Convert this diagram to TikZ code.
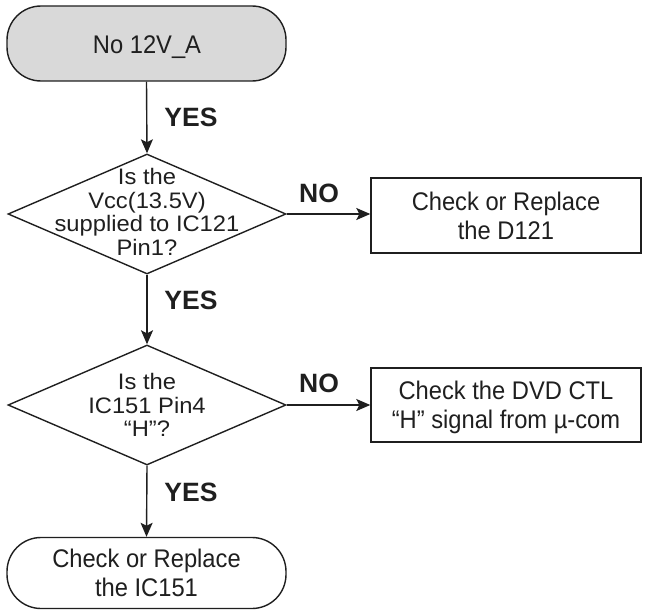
\documentclass[tikz,border=0pt]{standalone}
\usepackage{fontspec}
\setmainfont{Liberation Sans}
\newfontfamily\boxfont[FakeStretch=0.93]{Liberation Sans}
\newfontfamily\diafont[FakeStretch=1.06]{Liberation Sans}
\usetikzlibrary{shapes.geometric,arrows.meta}
\begin{document}
\begin{tikzpicture}[x=1pt,y=-1pt,
  every node/.style={font=\boxfont\fontsize{25.5}{29.3}\selectfont, text=black!88},
  term/.style={draw=black!88, line width=1.4pt, rounded corners=34pt, inner sep=0pt, align=center, text depth=0pt},
  dia/.style={draw=black!88, line width=1.4pt, diamond, inner sep=0pt, minimum width=278pt, minimum height=120pt},
  diatext/.style={align=center, font=\diafont\fontsize{22.4}{23.6}\selectfont, inner sep=0pt, text depth=0pt},
  boxnode/.style={draw=black!88, line width=1.4pt, minimum width=270pt, align=center, inner sep=0pt, text depth=0pt},
  lbl/.style={font=\bfseries\fontsize{26.5}{29}\selectfont, inner sep=0pt},
  conn/.style={draw=black!88, line width=1.4pt, -{Stealth[length=14pt,width=12pt,inset=3pt]}}]
\useasboundingbox (0,0) rectangle (646,610);
% nodes
\node[term, fill=black!15, minimum width=279pt, minimum height=75pt] (start) at (146.5,43.5) {};
\node[anchor=base, inner sep=0pt] (starttxt) at (147,53.3) {No 12V\_A};
\node[dia] (d1) at (147,214) {};
\node[diatext] (d1txt) at (147,212) {Is the\\Vcc(13.5V)\\supplied to IC121\\Pin1?};
\node[boxnode, minimum height=75pt] (b1) at (506,215.5) {Check or Replace\\the D121};
\node[dia] (d2) at (147,405) {};
\node[diatext] (d2txt) at (147,405) {Is the\\IC151 Pin4\\“H”?};
\node[boxnode, minimum height=74pt] (b2) at (506,405) {Check the DVD CTL\\“H” signal from µ-com};
\node[term, fill=white, minimum width=279pt, minimum height=71pt] (stop) at (146.5,573) {Check or Replace\\the IC151};
% labels
\node[lbl] (yes1) at (191,117) {YES};
\node[lbl] (no1) at (319,193) {NO};
\node[lbl] (yes2) at (191,300) {YES};
\node[lbl] (no2) at (319,383) {NO};
\node[lbl] (yes3) at (191,492) {YES};
% connectors
\draw[conn] (start.south) -- (d1.north);
\draw[conn] (d1.east) -- (d1.east -| b1.west);
\draw[conn] (d1.south) -- (d2.north);
\draw[conn] (d2.east) -- (d2.east -| b2.west);
\draw[conn] (d2.south) -- (stop.north);
\end{tikzpicture}
\end{document}
